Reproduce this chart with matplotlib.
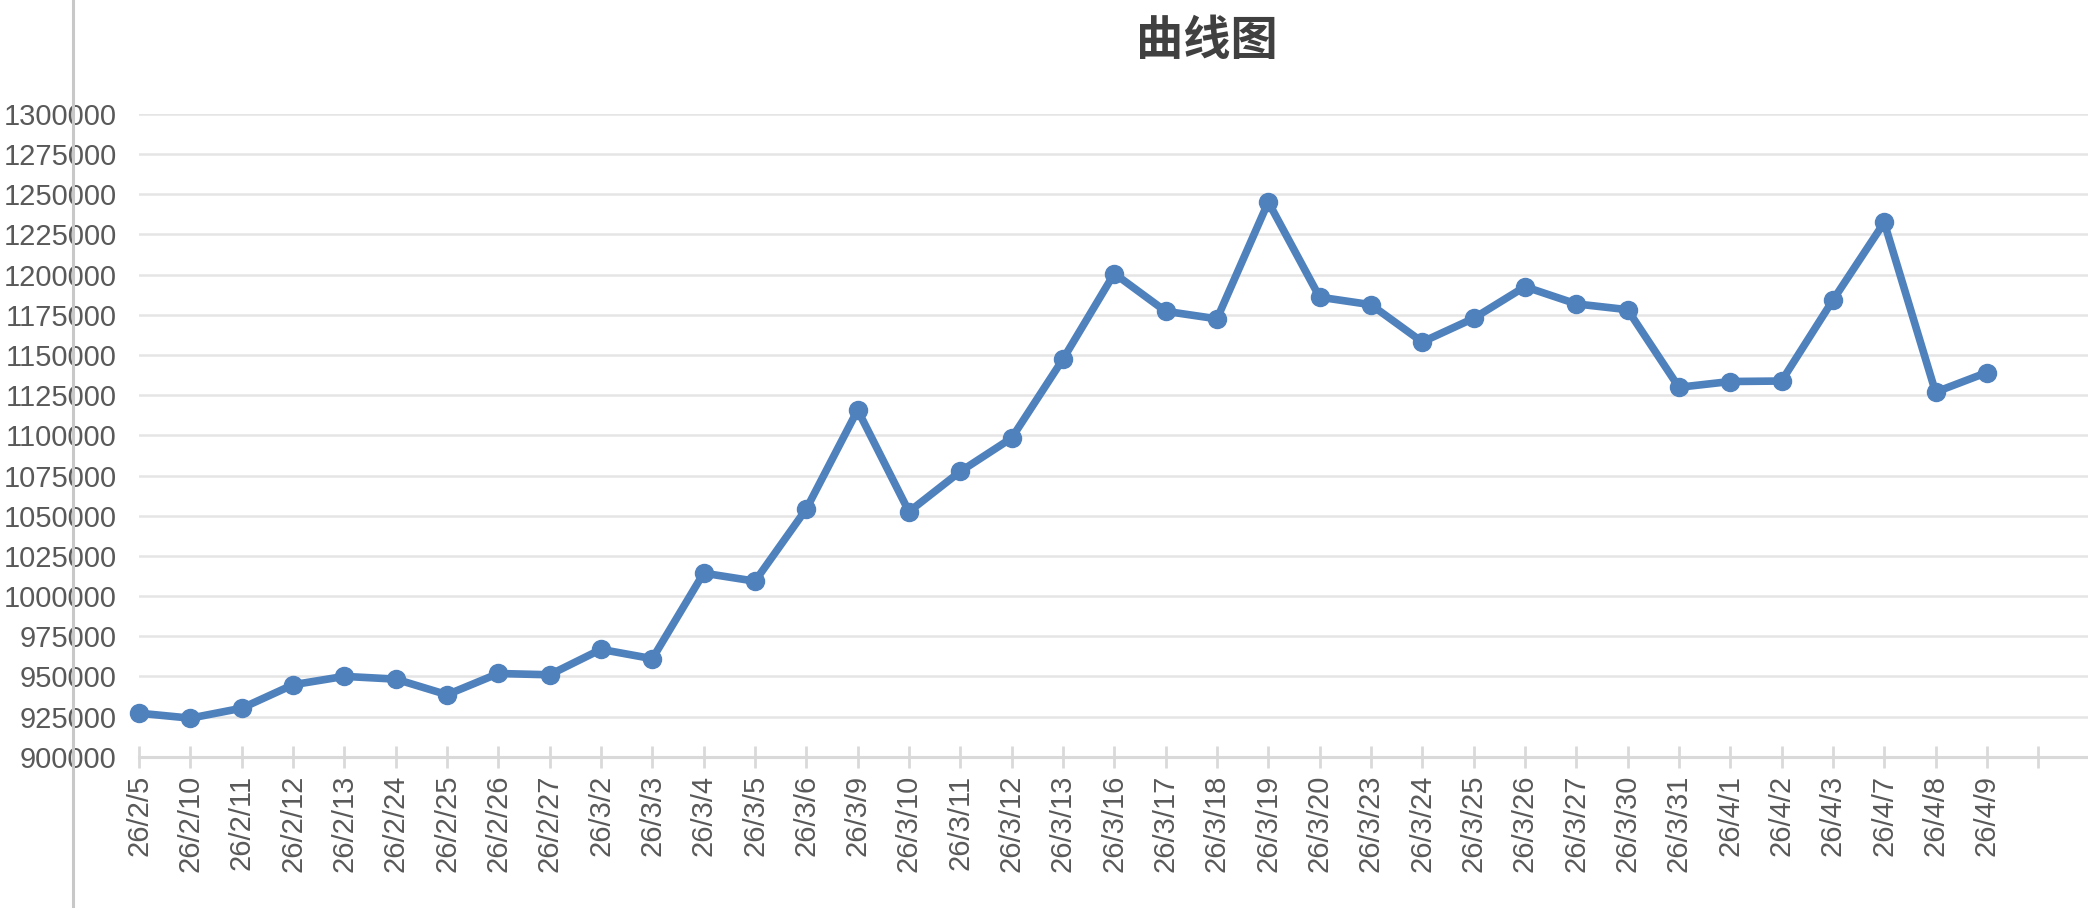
# -*- coding: utf-8 -*-
"""
Line chart: 曲线图
"""
import matplotlib
matplotlib.use('Agg')
import matplotlib.pyplot as plt
from matplotlib.lines import Line2D

# data
dates = ['26/2/5', '26/2/10', '26/2/11', '26/2/12', '26/2/13', '26/2/24',
         '26/2/25', '26/2/26', '26/2/27', '26/3/2', '26/3/3', '26/3/4',
         '26/3/5', '26/3/6', '26/3/9', '26/3/10', '26/3/11', '26/3/12',
         '26/3/13', '26/3/16', '26/3/17', '26/3/18', '26/3/19', '26/3/20',
         '26/3/23', '26/3/24', '26/3/25', '26/3/26', '26/3/27', '26/3/30',
         '26/3/31', '26/4/1', '26/4/2', '26/4/3', '26/4/7', '26/4/8', '26/4/9']
values = [927100, 924000, 930200, 944800, 950000, 948300,
          938600, 951800, 951000, 966800, 961000, 1014250,
          1009250, 1054200, 1115750, 1052500, 1077500, 1098300,
          1147400, 1200700, 1177200, 1172500, 1245200, 1186000,
          1181300, 1158100, 1172800, 1192500, 1181800, 1178200,
          1129900, 1133500, 1133800, 1184100, 1232500, 1126900, 1139100]
y_ticks = list(range(900000, 1300001, 25000))
title = '曲线图'

# style
line_color = '#4f81bd'
grid_color = '#e5e5e5'
axis_color = '#d9d9d9'
text_color = '#595959'
fs = 21

plt.rcParams['font.family'] = ['Liberation Sans', 'DejaVu Sans']

fig = plt.figure(figsize=(20.88, 9.08), dpi=100)
ax = fig.add_axes([0.0666, 0.1666, 1.0 - 0.0666, 0.8745 - 0.1666])

xs = list(range(len(dates)))
ax.plot(xs, values, color=line_color, lw=5.5, marker='o', markersize=13,
        zorder=3, clip_on=False)

ax.set_ylim(900000, 1300000)
ax.set_xlim(0, 37.97)
ax.set_yticks(y_ticks)
ax.set_yticklabels([str(v) for v in y_ticks])
ax.set_xticks(list(range(len(dates) + 1)))
ax.set_xticklabels(dates + [''], rotation=90)

# grid and spines
ax.yaxis.grid(True, color=grid_color, lw=1.8)
ax.set_axisbelow(True)
for s in ['top', 'right', 'left']:
    ax.spines[s].set_visible(False)
ax.spines['bottom'].set_color(axis_color)
ax.spines['bottom'].set_linewidth(2.2)
ax.spines['bottom'].set_zorder(2)

ax.tick_params(axis='y', length=0, pad=16, labelsize=fs, labelcolor=text_color)
ax.tick_params(axis='x', direction='inout', length=16, width=2.0,
               color=axis_color, pad=5, labelsize=fs, labelcolor=text_color)

# title
fig.text(1206.5 / 2088, 1 - 41 / 908, title, ha='center', va='center',
         fontsize=34, fontweight='bold', color='#404040',
         family=['Noto Sans CJK SC', 'DejaVu Sans'])

# thin vertical border line at the left
fig.add_artist(Line2D([72.7 / 2088, 72.7 / 2088], [0, 1], color='#c8c8c8',
                      lw=2.2, transform=fig.transFigure, zorder=10))

fig.savefig('out.png', dpi=100)
